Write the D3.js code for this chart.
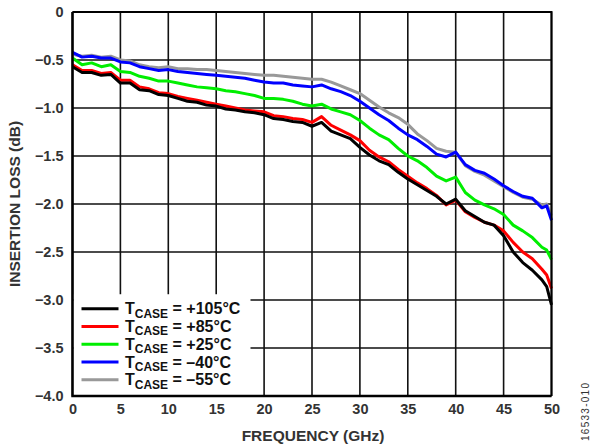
<!DOCTYPE html>
<html>
<head>
<meta charset="utf-8">
<script src="https://cdn.jsdelivr.net/npm/d3@7"></script>
<style>
  body { margin: 0; background: #fff; }
  svg { font-family: "Liberation Sans", Arial, sans-serif; }
  .tick-label text { font-size: 14.5px; font-weight: bold; fill: #333; }
  .axis-label { font-size: 15.5px; font-weight: bold; fill: #333; }
</style>
</head>
<body>
<svg width="598" height="448"></svg>
<script>
"use strict";

const freq = [0,1,2,3,4,5,6,7,8,9,10,11,12,13,14,15,16,17,18,19,20,21,22,23,24,25,26,27,28,29,30,
  31,32,33,34,35,36,37,38,39,40,41,42,43,44,45,46,47,48,49,49.5,50];

const t105 = [-0.57,-0.63,-0.63,-0.66,-0.65,-0.74,-0.74,-0.81,-0.82,-0.86,-0.87,-0.90,-0.93,-0.94,-0.97,-0.98,
  -1.01,-1.02,-1.04,-1.05,-1.07,-1.11,-1.12,-1.14,-1.15,-1.19,-1.15,-1.24,-1.28,-1.32,-1.41,
  -1.49,-1.55,-1.59,-1.67,-1.74,-1.80,-1.86,-1.92,-2.00,-1.95,-2.07,-2.13,-2.19,-2.22,-2.33,
  -2.50,-2.61,-2.69,-2.79,-2.86,-3.05];
const t85 = [-0.55,-0.61,-0.61,-0.64,-0.63,-0.71,-0.71,-0.78,-0.80,-0.84,-0.85,-0.88,-0.90,-0.92,-0.94,-0.96,
  -0.98,-1.00,-1.02,-1.03,-1.04,-1.08,-1.09,-1.11,-1.12,-1.15,-1.09,-1.18,-1.23,-1.28,-1.34,
  -1.44,-1.51,-1.56,-1.64,-1.71,-1.78,-1.84,-1.91,-2.01,-1.96,-2.08,-2.14,-2.19,-2.22,-2.28,
  -2.40,-2.50,-2.57,-2.68,-2.74,-2.88];
const t25 = [-0.48,-0.55,-0.53,-0.57,-0.55,-0.62,-0.63,-0.67,-0.69,-0.72,-0.72,-0.74,-0.76,-0.78,-0.79,-0.80,
  -0.82,-0.83,-0.85,-0.87,-0.90,-0.90,-0.91,-0.93,-0.96,-0.98,-0.96,-1.01,-1.04,-1.07,-1.13,
  -1.21,-1.28,-1.33,-1.42,-1.50,-1.55,-1.62,-1.71,-1.76,-1.72,-1.88,-1.96,-2.01,-2.05,-2.11,
  -2.22,-2.28,-2.35,-2.45,-2.48,-2.58];
const tm40 = [-0.42,-0.47,-0.46,-0.48,-0.48,-0.52,-0.53,-0.57,-0.59,-0.61,-0.60,-0.62,-0.63,-0.64,-0.65,-0.66,
  -0.67,-0.68,-0.69,-0.71,-0.73,-0.74,-0.74,-0.76,-0.77,-0.78,-0.76,-0.80,-0.83,-0.87,-0.93,
  -1.00,-1.07,-1.13,-1.21,-1.28,-1.33,-1.40,-1.48,-1.51,-1.46,-1.59,-1.65,-1.68,-1.74,-1.81,
  -1.87,-1.92,-1.94,-2.04,-2.02,-2.17];
const tm55 = [-0.44,-0.46,-0.45,-0.47,-0.46,-0.50,-0.51,-0.55,-0.57,-0.58,-0.57,-0.59,-0.59,-0.60,-0.60,-0.61,
  -0.62,-0.63,-0.64,-0.65,-0.66,-0.66,-0.67,-0.68,-0.69,-0.70,-0.70,-0.73,-0.77,-0.81,-0.85,
  -0.92,-0.99,-1.05,-1.10,-1.17,-1.27,-1.34,-1.42,-1.45,-1.46,-1.60,-1.66,-1.70,-1.76,-1.82,
  -1.88,-1.93,-1.95,-2.01,-2.00,-2.12];

const legendTemps = ["+105°C", "+85°C", "+25°C", "\u201340°C", "\u201355°C"];
const colors = ["#000000", "#ff0000", "#00ee00", "#0000ff", "#999999"];
const xTicks = [0,5,10,15,20,25,30,35,40,45,50];
const yTicks = [0,-0.5,-1.0,-1.5,-2.0,-2.5,-3.0,-3.5,-4.0];

const series = [t105, t85, t25, tm40, tm55].map((vals, i) => ({
  name: legendTemps[i],
  color: colors[i],
  values: vals.map((v, j) => ({ f: freq[j], v: v }))
}));

const svg = d3.select("svg");
const width = 598;
const height = 448;
const margin = { top: 12, left: 72.5, right: 46.5, bottom: 52 };
const innerWidth = width - margin.left - margin.right;
const innerHeight = height - margin.top - margin.bottom;

const xScale = d3.scaleLinear().domain([0, 50]).range([0, innerWidth]);
const yScale = d3.scaleLinear().domain([-4, 0]).range([innerHeight, 0]);

const g = svg.append("g").attr("transform", `translate(${margin.left},${margin.top})`);

const fmtY = d => d === 0 ? "0" : d3.format(".1f")(d).replace("-", "\u2013");

// grid
const vGrid = xTicks.map(t => `M${xScale(t).toFixed(2)},0V${innerHeight}`).join("");
const hGrid = yTicks.map(t => `M0,${yScale(t).toFixed(2)}H${innerWidth}`).join("");
g.append("path")
  .attr("class", "grid-v")
  .attr("d", vGrid)
  .attr("fill", "none")
  .attr("stroke", "#111")
  .attr("stroke-width", 1.6);
g.append("path")
  .attr("class", "grid-h")
  .attr("d", hGrid)
  .attr("fill", "none")
  .attr("stroke", "#111")
  .attr("stroke-width", 1.6);

// legend background
const legendTop = yScale(-2.94);
g.append("rect")
  .attr("x", 1).attr("y", legendTop)
  .attr("width", 177).attr("height", innerHeight - legendTop - 1)
  .attr("fill", "#fff");

// curves
const line = d3.line().x(d => xScale(d.f)).y(d => yScale(d.v));
g.append("g").selectAll("path").data(series.slice().reverse()).enter().append("path")
  .attr("d", d => line(d.values))
  .attr("fill", "none")
  .attr("stroke", d => d.color)
  .attr("stroke-width", 3)
  .attr("stroke-linejoin", "round");

// legend items
const legend = g.append("g").attr("transform", `translate(0,${legendTop})`);
const item = legend.selectAll("g.item").data(series).enter().append("g")
  .attr("class", "item")
  .attr("transform", (d, i) => `translate(0,${14.5 + i * 17.75})`);
item.append("line")
  .attr("x1", 9).attr("x2", 46).attr("y1", 0).attr("y2", 0)
  .attr("stroke", d => d.color).attr("stroke-width", 3);
const txt = item.append("text")
  .attr("x", 52.5).attr("y", 5.6)
  .style("font-size", "16px").style("font-weight", "bold").style("fill", "#111");
txt.append("tspan").text("T");
txt.append("tspan").attr("dy", 3.4).style("font-size", "12px").text("CASE");
txt.append("tspan").attr("dy", -3.4).text(d => " = " + d.name);

// axes
const xAxis = d3.axisBottom(xScale).tickValues(xTicks).tickSize(0).tickPadding(8);
const yAxis = d3.axisLeft(yScale).tickValues(yTicks).tickSize(0).tickPadding(9).tickFormat(fmtY);

const xAxisG = g.append("g").attr("class", "tick-label")
  .attr("transform", `translate(0,${innerHeight})`).call(xAxis);
const yAxisG = g.append("g").attr("class", "tick-label").call(yAxis);
xAxisG.select(".domain").remove();
yAxisG.select(".domain").remove();

// frame: thick left/bottom, thinner top/right
g.append("path")
  .attr("d", `M0,0H${innerWidth}V${innerHeight}`)
  .attr("fill", "none")
  .attr("stroke", "#000")
  .attr("stroke-width", 2);
g.append("path")
  .attr("d", `M0,0V${innerHeight}H${innerWidth}`)
  .attr("fill", "none")
  .attr("stroke", "#000")
  .attr("stroke-width", 2.5);

g.append("text").attr("class", "axis-label")
  .attr("x", innerWidth / 2 + 1).attr("y", innerHeight + 45)
  .attr("text-anchor", "middle").text("FREQUENCY (GHz)");

g.append("text").attr("class", "axis-label")
  .attr("transform", "rotate(-90)")
  .attr("x", -innerHeight / 2).attr("y", -53)
  .attr("text-anchor", "middle").text("INSERTION LOSS (dB)");

svg.append("text")
  .attr("transform", "translate(589,441) rotate(-90)")
  .attr("textLength", 58)
  .style("font-size", "10px").style("fill", "#333")
  .text("16533-010");
</script>
</body>
</html>
